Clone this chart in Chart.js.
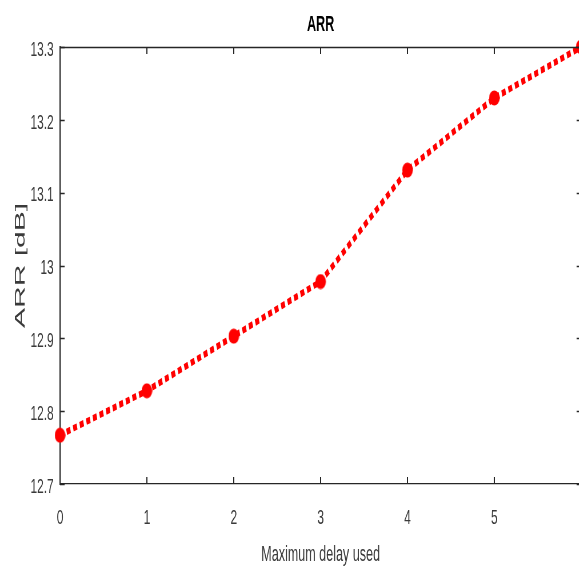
<!DOCTYPE html>
<html>
<head>
<meta charset="utf-8">
<script src="https://cdn.jsdelivr.net/npm/chart.js@4.4.1/dist/chart.umd.min.js"></script>
<style>
  html, body { margin: 0; padding: 0; background: #fff; overflow: hidden; }
  #wrap { width: 579px; height: 568px; overflow: hidden; }
  /* the figure is squeezed sideways, like the reference */
  #arrChart { transform: scaleX(0.5714286); transform-origin: 0 0; }
</style>
</head>
<body>
<div id="wrap"><canvas id="arrChart" width="1050" height="568"></canvas></div>
<script>
// values
var delays = [0, 1, 2, 3, 4, 5, 6];
var arrValues = [12.767, 12.828, 12.903, 12.978, 13.131, 13.230, 13.300];
var yTicks = [12.7, 12.8, 12.9, 13, 13.1, 13.2, 13.3];
var xTicks = [0, 1, 2, 3, 4, 5];

var font = '"Liberation Sans", Arial, sans-serif';
var axisColor = '#262626';
var textColor = '#3a3a3a';

// red marker, wider in canvas units so it shows as a tall ellipse after the squeeze
var marker = document.createElement('canvas');
marker.width = 19;
marker.height = 16;
var mctx = marker.getContext('2d');
mctx.fillStyle = '#ff0000';
mctx.beginPath();
mctx.ellipse(9.5, 8, 9.3, 7.6, 0, 0, Math.PI * 2);
mctx.fill();

// box, inward ticks, title and y label
var framePlugin = {
    id: 'frame',
    afterDraw: function (chart) {
        var ctx = chart.ctx;
        var a = chart.chartArea;
        var xs = chart.scales.x, ys = chart.scales.y;
        ctx.save();
        ctx.strokeStyle = axisColor;
        // top and right edges
        ctx.lineWidth = 1.3;
        ctx.beginPath();
        ctx.moveTo(a.left, a.top + 0.5); ctx.lineTo(a.right, a.top + 0.5);
        ctx.stroke();
        ctx.lineWidth = 2.2;
        ctx.beginPath();
        ctx.moveTo(a.right, a.top); ctx.lineTo(a.right, a.bottom);
        ctx.stroke();
        // x ticks (vertical strokes)
        ctx.lineWidth = 2;
        ctx.beginPath();
        xTicks.forEach(function (v) {
            var px = xs.getPixelForValue(v);
            ctx.moveTo(px, a.bottom); ctx.lineTo(px, a.bottom - 7);
            ctx.moveTo(px, a.top); ctx.lineTo(px, a.top + 7);
        });
        ctx.stroke();
        // y ticks (horizontal strokes)
        ctx.lineWidth = 1.3;
        ctx.beginPath();
        yTicks.forEach(function (v) {
            var py = Math.round(ys.getPixelForValue(v)) + 0.5;
            ctx.moveTo(a.left, py); ctx.lineTo(a.left + 8, py);
            ctx.moveTo(a.right, py); ctx.lineTo(a.right - 8, py);
        });
        ctx.stroke();

        // title
        ctx.fillStyle = '#000';
        ctx.font = 'bold 22px ' + font;
        ctx.textAlign = 'center';
        ctx.textBaseline = 'middle';
        ctx.fillText('ARR', (a.left + a.right) / 2, 25);

        // y axis label
        ctx.translate(36, (a.top + a.bottom) / 2);
        ctx.rotate(-Math.PI / 2);
        ctx.scale(1.25, 1);
        ctx.fillStyle = textColor;
        ctx.font = '24px ' + font;
        ctx.fillText('ARR [dB]', 0, 0);
        ctx.restore();
    }
};

new Chart(document.getElementById('arrChart'), {
    type: 'line',
    data: {
        datasets: [{
            data: delays.map(function (d, i) { return { x: d, y: arrValues[i] }; }),
            borderColor: '#ff0000',
            borderWidth: 6.5,
            borderDash: [7, 5],
            borderCapStyle: 'butt',
            pointStyle: marker,
            pointRadius: 8,
            pointBackgroundColor: '#ff0000',
            pointBorderColor: '#ff0000',
            tension: 0,
            fill: false,
            clip: false
        }]
    },
    options: {
        responsive: false,
        animation: false,
        devicePixelRatio: 1,
        layout: { padding: { top: 47, right: 33, left: 0, bottom: 0 } },
        plugins: {
            legend: { display: false },
            title: { display: false },
            tooltip: { enabled: false }
        },
        scales: {
            x: {
                type: 'linear',
                min: 0,
                max: 6,
                afterFit: function (scale) { scale.height = 84; },
                afterBuildTicks: function (scale) {
                    scale.ticks = xTicks.map(function (v) { return { value: v }; });
                },
                grid: { display: false, drawTicks: false },
                border: { color: axisColor, width: 1.3 },
                ticks: {
                    padding: 22,
                    color: textColor,
                    font: { family: font, size: 21 },
                    maxRotation: 0
                },
                title: {
                    display: true,
                    text: 'Maximum delay used',
                    color: textColor,
                    font: { family: font, size: 22 },
                    padding: { top: 0, bottom: 0 }
                }
            },
            y: {
                type: 'linear',
                min: 12.7,
                max: 13.3,
                afterFit: function (scale) { scale.width = 105; },
                afterBuildTicks: function (scale) {
                    scale.ticks = yTicks.map(function (v) { return { value: v }; });
                },
                grid: { display: false, drawTicks: false },
                border: { color: axisColor, width: 2.2 },
                ticks: {
                    padding: 11,
                    labelOffset: 3,
                    color: textColor,
                    font: { family: font, size: 21 },
                    callback: function (v) { return String(Math.round(v * 10) / 10); }
                }
            }
        }
    },
    plugins: [framePlugin]
});
</script>
</body>
</html>
